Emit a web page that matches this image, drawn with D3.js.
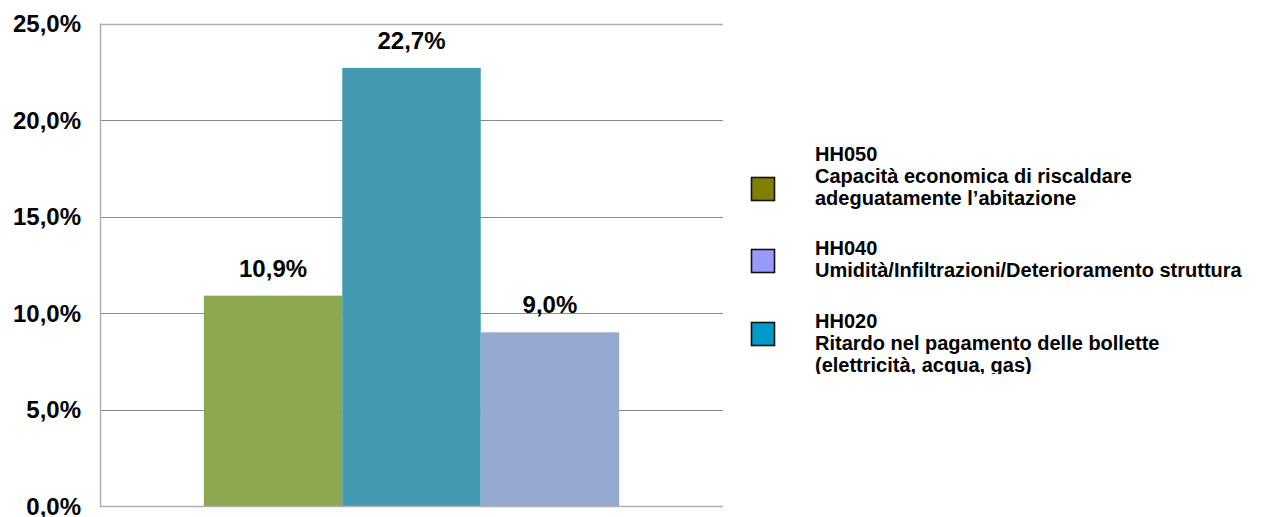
<!DOCTYPE html>
<html>
<head>
<meta charset="utf-8">
<script src="https://cdn.jsdelivr.net/npm/d3@7"></script>
<style>
  body { margin: 0; background: #fff; }
  text { font-family: "Liberation Sans", Arial, sans-serif; font-weight: bold; fill: #000; }
</style>
</head>
<body>
<div id="chart"></div>
<script>
// data
const category = ["Totale"];
const seriesCodes = ["HH050", "HH020", "HH040"];
const seriesValues = [10.9, 22.7, 9.0];
const barColors = ["#8ba84f", "#4399b0", "#95a9d0"];

const yTicks = [0, 5, 10, 15, 20, 25];

const legendCodes = ["HH050", "HH040", "HH020"];
const legendLines = [
    ["Capacità economica di riscaldare", "adeguatamente l’abitazione"],
    ["Umidità/Infiltrazioni/Deterioramento struttura"],
    ["Ritardo nel pagamento delle bollette", "(elettricità, acqua, gas)"]
];
const legendColors = ["#808000", "#9999ff", "#0099cc"];

function drawChart() {
    const width = 1275, height = 517;
    const plot = { left: 100, right: 723, top: 23.5, bottom: 506 };

    const svg = d3.select("#chart")
        .append("svg")
        .attr("width", width)
        .attr("height", height);

    const fmt = v => d3.format(".1f")(v).replace(".", ",") + "%";

    // scales
    const x0 = d3.scaleBand()
        .domain(category)
        .range([plot.left, plot.right])
        .paddingInner(0)
        .paddingOuter(0.25);

    const x1 = d3.scaleBand()
        .domain(seriesCodes)
        .range([0, x0.bandwidth()])
        .padding(0);

    const y = d3.scaleLinear()
        .domain([0, 25])
        .range([plot.bottom, plot.top]);

    // gridlines
    svg.append("g")
        .selectAll("line")
        .data(yTicks.filter(t => t > 0))
        .enter()
        .append("line")
        .attr("x1", plot.left)
        .attr("x2", plot.right)
        .attr("y1", d => Math.round(y(d)) + 0.5)
        .attr("y2", d => Math.round(y(d)) + 0.5)
        .attr("stroke", d => d === 25 ? "#b0b0b0" : "#8a8a8a")
        .attr("stroke-width", d => d === 25 ? 1.6 : 1);

    // bars
    const bars = svg.append("g")
        .attr("transform", `translate(${x0(category[0])},0)`);

    bars.selectAll("rect")
        .data(seriesValues)
        .enter()
        .append("rect")
        .attr("x", (d, i) => x1(seriesCodes[i]))
        .attr("y", d => y(d))
        .attr("width", x1.bandwidth())
        .attr("height", d => plot.bottom - y(d))
        .attr("fill", (d, i) => barColors[i]);

    // value labels
    bars.selectAll("text")
        .data(seriesValues)
        .enter()
        .append("text")
        .attr("x", (d, i) => x1(seriesCodes[i]) + x1.bandwidth() / 2)
        .attr("y", d => y(d) - 19)
        .attr("text-anchor", "middle")
        .attr("font-size", "24px")
        .text(d => fmt(d));

    // axes lines
    svg.append("line")
        .attr("x1", plot.left + 0.5).attr("x2", plot.left + 0.5)
        .attr("y1", plot.top).attr("y2", plot.bottom + 0.5)
        .attr("stroke", "#b0b0b0").attr("stroke-width", 1.5);
    svg.append("line")
        .attr("x1", plot.left).attr("x2", plot.right)
        .attr("y1", plot.bottom + 0.5).attr("y2", plot.bottom + 0.5)
        .attr("stroke", "#b0b0b0").attr("stroke-width", 1.5);

    // y axis labels
    const yAxis = svg.append("g")
        .attr("transform", `translate(${plot.left},0)`)
        .call(d3.axisLeft(y).tickValues(yTicks).tickSize(0).tickPadding(19).tickFormat(fmt));
    yAxis.select(".domain").remove();
    yAxis.selectAll("text")
        .attr("font-size", "24px")
        .attr("font-family", "Liberation Sans, Arial, sans-serif")
        .attr("fill", "#000")
        .attr("dy", "0.34em");

    // legend (the last line is cut off in the original)
    svg.append("clipPath")
        .attr("id", "legclip")
        .append("rect")
        .attr("x", 730).attr("y", 0)
        .attr("width", 545).attr("height", 374);

    const legendFirstBaseline = [161, 255, 328];
    const legendBoxTop = [177, 249, 322];
    const lineGap = 22;

    const legend = svg.append("g").attr("clip-path", "url(#legclip)");
    const items = legend.selectAll("g")
        .data(legendCodes)
        .enter()
        .append("g");

    items.append("rect")
        .attr("x", 751.5)
        .attr("y", (d, i) => legendBoxTop[i] + 0.5)
        .attr("width", 23)
        .attr("height", 23)
        .attr("fill", (d, i) => legendColors[i])
        .attr("stroke", "#111")
        .attr("stroke-width", 1.6);

    items.append("text")
        .attr("x", 815)
        .attr("y", (d, i) => legendFirstBaseline[i])
        .attr("font-size", "20px")
        .each(function(d, i) {
            const t = d3.select(this);
            [d].concat(legendLines[i]).forEach((line, k) => {
                t.append("tspan")
                    .attr("x", 815)
                    .attr("y", legendFirstBaseline[i] + k * lineGap)
                    .text(line);
            });
        });
}

document.addEventListener('DOMContentLoaded', function() {
    drawChart();
});
</script>
</body>
</html>
